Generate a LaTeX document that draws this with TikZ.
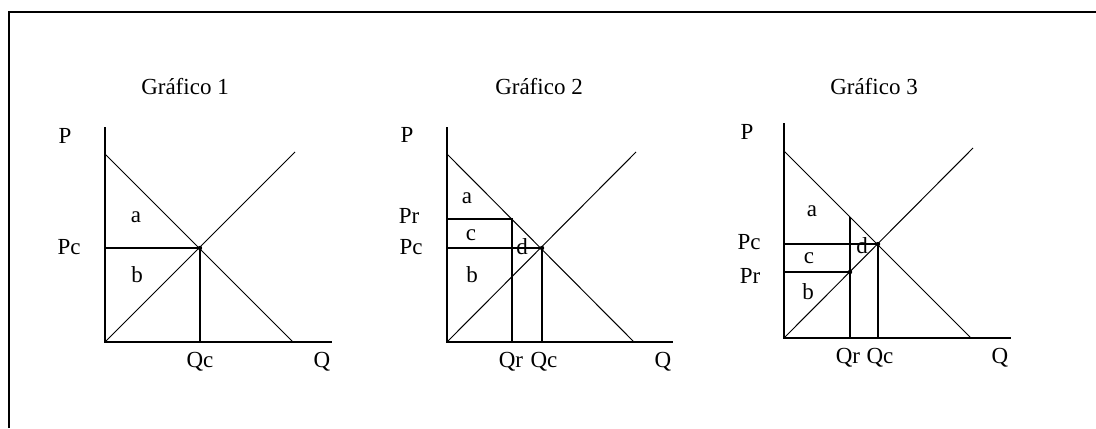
\documentclass[tikz,border=0pt]{standalone}
\usepackage{fontspec}
\setmainfont{Liberation Serif}
\usetikzlibrary{positioning}

\begin{document}
\begin{tikzpicture}[x=0.5pt,y=-0.5pt,
  lbl/.style={inner sep=0pt,font=\fontsize{11.5}{14}\selectfont},
  axis/.style={line width=1pt},
  curve/.style={line width=0.5pt},
  guide/.style={line width=0.75pt},
  knot/.style={circle,fill,inner sep=0pt,minimum size=2.2pt}]
  \useasboundingbox (0,0) rectangle (1096,428);
  % frame
  \coordinate (fbl) at (9,428);
  \coordinate (ftl) at (9,12);
  \coordinate (ftr) at (1096,12);
  \draw[axis] (fbl) -- (ftl) -- (ftr);

  % grafico 1
  \node[lbl] (t1) at (185,87) {Gráfico 1};
  \coordinate (o1) at (105,342);
  \coordinate (y1) at (105,127);
  \coordinate (x1) at (332,342);
  \coordinate (d1a) at (105,154);
  \coordinate (d1b) at (293,342);
  \coordinate (s1b) at (295,152);
  \coordinate (e1) at (200,248);
  \coordinate (pc1) at (105,248);
  \coordinate (qc1) at (200,342);
  \draw[axis] (y1) -- (o1) -- (x1);
  \draw[curve] (d1a) -- (d1b);
  \draw[curve] (o1) -- (s1b);
  \draw[guide] (pc1) -- (e1) -- (qc1);
  \node[knot] (k1) at (e1) {};
  \node[lbl] (P1) at (65,136) {P};
  \node[lbl] (Pc1) at (69,247) {Pc};
  \node[lbl] (a1) at (136,217) {a};
  \node[lbl] (b1) at (137,275) {b};
  \node[lbl] (Qc1) at (200,362) {Qc};
  \node[lbl] (Q1) at (322,362) {Q};

  % grafico 2
  \node[lbl] (t2) at (539,87) {Gráfico 2};
  \coordinate (o2) at (447,342);
  \coordinate (y2) at (447,127);
  \coordinate (x2) at (673,342);
  \coordinate (d2a) at (447,154);
  \coordinate (d2b) at (634,342);
  \coordinate (s2b) at (636,152);
  \coordinate (e2) at (542,248);
  \coordinate (pc2) at (447,248);
  \coordinate (qc2) at (542,342);
  \coordinate (pr2) at (447,219);
  \coordinate (r2) at (512,219);
  \coordinate (qr2) at (512,342);
  \draw[axis] (y2) -- (o2) -- (x2);
  \draw[curve] (d2a) -- (d2b);
  \draw[curve] (o2) -- (s2b);
  \draw[guide] (pc2) -- (e2) -- (qc2);
  \draw[guide] (pr2) -- (r2) -- (qr2);
  \node[knot] (k2) at (e2) {};
  \node[lbl] (P2) at (407,135) {P};
  \node[lbl] (Pr2) at (409,216) {Pr};
  \node[lbl] (Pc2) at (411,247) {Pc};
  \node[lbl] (a2) at (467,198) {a};
  \node[lbl] (c2) at (471,235) {c};
  \node[lbl] (b2) at (472,275) {b};
  \node[lbl] (dd2) at (522,247) {d};
  \node[lbl] (Qr2) at (511,362) {Qr};
  \node[lbl] (Qc2) at (544,362) {Qc};
  \node[lbl] (Q2) at (663,362) {Q};

  % grafico 3
  \node[lbl] (t3) at (874,87) {Gráfico 3};
  \coordinate (o3) at (784,338);
  \coordinate (y3) at (784,123);
  \coordinate (x3) at (1011,338);
  \coordinate (d3a) at (784,151);
  \coordinate (d3b) at (971,338);
  \coordinate (s3b) at (973,148);
  \coordinate (e3) at (878,244);
  \coordinate (pc3) at (784,244);
  \coordinate (qc3) at (878,338);
  \coordinate (pr3) at (784,272);
  \coordinate (r3) at (850,272);
  \coordinate (rt3) at (850,217);
  \coordinate (qr3) at (850,338);
  \draw[axis] (y3) -- (o3) -- (x3);
  \draw[curve] (d3a) -- (d3b);
  \draw[curve] (o3) -- (s3b);
  \draw[guide] (pc3) -- (e3) -- (qc3);
  \draw[guide] (pr3) -- (r3);
  \draw[guide] (rt3) -- (qr3);
  \node[knot] (k3) at (e3) {};
  \node[knot] (k4) at (r3) {};
  \node[lbl] (P3) at (747,132) {P};
  \node[lbl] (Pc3) at (749,242) {Pc};
  \node[lbl] (Pr3) at (750,276) {Pr};
  \node[lbl] (a3) at (812,211) {a};
  \node[lbl] (c3) at (809,258) {c};
  \node[lbl] (b3) at (808,292) {b};
  \node[lbl] (dd3) at (862,246) {d};
  \node[lbl] (Qr3) at (848,358) {Qr};
  \node[lbl] (Qc3) at (880,358) {Qc};
  \node[lbl] (Q3) at (1000,358) {Q};
\end{tikzpicture}
\end{document}
